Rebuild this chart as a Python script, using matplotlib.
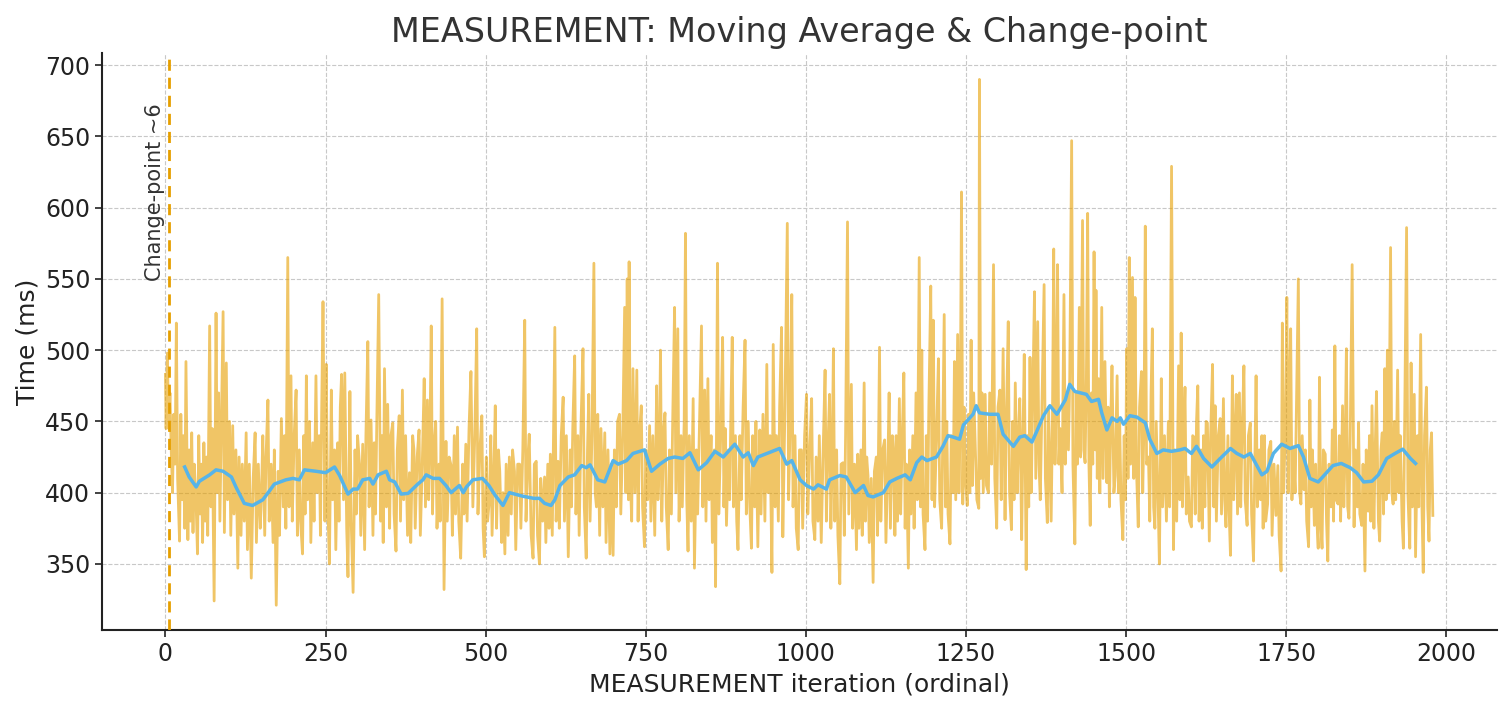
import matplotlib
matplotlib.use("Agg")
import matplotlib.pyplot as plt

raw_pairs = [
    (0,483),(1,445),(3,498),(5,445),(7,470),(9,430),(11,400),(13,455),(15,420),(17,519),(19,410),(22,366),(24,455),(26,395),(28,440),(30,375),(32,492),(35,367),(37,430),(39,380),(41,442),(43,372),(45,420),(48,390),(50,357),(52,440),(54,385),(56,420),(58,365),(60,435),(62,380),(64,425),(66,370),(69,517),(71,390),(73,445),(76,324),(79,526),(81,400),(83,470),(85,380),(87,440),(90,527),(92,372),(95,491),(97,395),
    (100,450),(102,370),(105,447),(107,385),(110,430),(113,347),(115,425),(118,370),(120,420),(123,380),(126,442),(128,360),(131,420),(134,340),(137,410),(140,442),(142,365),(145,420),(148,375),(150,400),(152,440),(155,370),(157,425),(160,465),(162,380),(165,420),(168,365),(170,430),(173,321),(176,415),(178,370),(181,452),(184,390),(186,440),(188,375),(191,565),(193,390),(196,482),(198,380),
    (201,440),(204,472),(206,370),(209,430),(211,380),(214,357),(216,440),(218,385),(220,482),(222,395),(225,450),(227,365),(230,435),(232,380),(235,482),(237,400),(240,440),(242,370),(244,460),(246,534),(249,380),(251,490),(253,400),(256,350),(259,472),(261,395),(264,430),(266,360),(269,435),(271,380),(273,460),(275,483),(278,395),(280,484),(283,375),(285,341),(288,471),(290,380),(293,330),(296,430),(298,385),
    (300,440),(303,420),(305,370),(308,434),(311,360),(313,440),(316,506),(318,390),(321,451),(324,370),(326,435),(328,385),(330,450),(333,539),(336,380),(338,440),(340,365),(342,487),(345,390),(347,462),(350,375),(352,440),(355,449),(357,385),(360,359),(362,430),(365,454),(367,380),(370,472),(372,395),(375,440),(378,370),(381,414),(383,365),(386,440),(388,430),(390,375),(393,425),(396,444),(398,370),
    (401,420),(404,480),(406,390),(409,465),(411,395),(413,440),(415,517),(417,385),(419,430),(422,450),(424,375),(427,420),(429,380),(432,536),(435,332),(438,436),(440,380),(443,425),(446,419),(448,370),(451,440),(453,385),(456,446),(458,380),(461,354),(464,420),(466,385),(469,434),(471,380),(474,445),(477,485),(480,390),(483,440),(486,515),(488,385),(491,430),(494,454),(496,375),(498,355),
    (501,425),(503,380),(506,396),(508,440),(510,370),(513,420),(515,461),(517,375),(520,430),(522,415),(525,365),(527,400),(530,357),(532,420),(535,370),(537,425),(540,385),(542,430),(545,415),(547,360),(550,420),(553,420),(555,375),(558,430),(561,521),(563,380),(566,425),(568,441),(571,370),(574,354),(576,420),(579,422),(581,370),(584,350),(586,410),(589,380),(592,411),(594,365),(597,420),(599,375),
    (601,427),(604,370),(606,440),(608,516),(610,380),(613,422),(615,375),(618,440),(621,467),(623,380),(626,440),(629,355),(632,430),(634,390),(636,445),(639,496),(641,385),(644,440),(646,370),(649,450),(652,501),(654,390),(657,354),(659,430),(661,469),(663,380),(666,440),(669,561),(671,400),(673,390),(675,455),(678,370),(680,445),(683,390),(686,442),(688,365),(691,430),(694,357),(696,420),(699,356),
    (701,430),(704,390),(706,450),(709,455),(711,385),(714,440),(717,530),(719,400),(721,550),(723,395),(724,562),(726,410),(728,380),(730,487),(733,400),(736,486),(738,380),(740,440),(743,461),(745,390),(748,362),(750,430),(753,395),(756,447),(758,380),(761,440),(764,370),(767,475),(769,395),(771,420),(773,500),(775,380),(778,445),(780,456),(782,390),(785,360),(787,430),(790,385),(792,450),(795,530),(797,400),
    (800,515),(802,380),(805,440),(807,390),(810,450),(812,582),(814,395),(816,359),(818,440),(821,380),(824,466),(826,347),(829,430),(831,385),(834,450),(837,517),(839,390),(842,472),(844,380),(847,480),(849,395),(852,440),(854,365),(857,430),(859,334),(862,561),(864,385),(867,440),(870,509),(872,390),(874,445),(876,377),(879,430),(881,395),(883,460),(885,509),(887,390),(890,440),(892,380),(894,360),(897,440),(899,395),
    (902,460),(905,507),(907,385),(910,450),(912,395),(915,361),(917,440),(920,390),(922,450),(925,362),(928,444),(930,385),(933,455),(936,380),(939,490),(941,400),(944,440),(947,344),(949,504),(952,390),(954,440),(957,380),(959,460),(962,516),(964,369),(967,450),(971,589),(973,395),(975,440),(978,539),(980,390),(983,440),(985,375),(988,360),(990,430),(993,430),(995,375),(998,440),
    (1001,469),(1003,385),(1006,430),(1009,466),(1011,380),(1014,367),(1016,425),(1019,380),(1021,440),(1024,365),(1027,430),(1030,486),(1032,380),(1035,440),(1037,469),(1039,375),(1041,420),(1043,501),(1045,380),(1048,430),(1050,370),(1053,336),(1055,420),(1058,421),(1060,370),(1062,440),(1065,590),(1067,385),(1069,430),(1071,476),(1073,375),(1076,420),(1079,360),(1081,427),(1083,375),(1086,430),(1088,370),(1091,477),(1093,380),(1095,425),(1097,412),(1099,365),
    (1102,410),(1105,337),(1107,415),(1110,425),(1112,370),(1115,502),(1117,380),(1120,430),(1123,437),(1125,365),(1128,420),(1130,470),(1132,375),(1135,440),(1137,427),(1139,370),(1141,440),(1143,380),(1146,466),(1148,385),(1150,430),(1153,484),(1155,375),(1157,420),(1160,347),(1162,430),(1164,385),(1167,440),(1169,375),(1172,470),(1174,395),(1177,565),(1179,390),(1181,500),(1183,385),(1186,360),(1188,440),(1190,380),(1192,460),(1195,545),(1197,395),(1199,521),
    (1201,390),(1204,440),(1207,494),(1209,395),(1212,375),(1214,450),(1216,525),(1218,390),(1220,450),(1222,385),(1225,364),(1227,440),(1230,400),(1232,492),(1234,395),(1237,511),(1239,400),(1241,450),(1243,611),(1245,392),(1247,460),(1249,410),(1252,391),(1254,455),(1256,400),(1258,507),(1260,405),(1262,470),(1265,426),(1267,395),(1270,389),(1271,690),(1273,410),(1275,470),(1277,400),(1280,469),(1282,405),(1285,400),(1287,470),(1290,420),(1293,560),(1295,410),(1298,375),
    (1300,460),(1303,472),(1305,395),(1308,501),(1311,381),(1313,450),(1316,520),(1318,400),(1321,374),(1323,450),(1325,395),(1327,477),(1330,400),(1332,440),(1334,466),(1337,367),(1339,440),(1341,497),(1344,346),(1346,440),(1348,390),(1350,495),(1352,400),(1354,460),(1357,541),(1359,410),(1362,520),(1364,420),(1366,395),(1369,470),(1372,546),(1374,410),(1377,379),(1379,460),(1381,420),(1383,380),(1385,450),(1387,571),(1389,420),(1391,470),(1393,560),(1395,420),(1397,445),
    (1400,400),(1403,539),(1405,420),(1407,470),(1410,430),(1412,480),(1415,647),(1417,420),(1420,364),(1422,470),(1424,420),(1427,530),(1429,425),(1432,591),(1434,430),(1436,421),(1438,480),(1440,596),(1442,420),(1444,377),(1446,470),(1448,420),(1450,569),(1452,430),(1453,542),(1455,410),(1457,480),(1459,400),(1462,530),(1464,410),(1467,492),(1470,407),(1472,460),(1474,390),(1476,450),(1478,489),(1481,400),(1483,412),(1486,482),(1488,400),(1490,450),(1492,395),(1495,367),(1497,440),(1499,395),
    (1501,501),(1503,410),(1505,565),(1507,420),(1510,551),(1512,410),(1514,537),(1516,420),(1519,376),(1521,460),(1524,485),(1526,400),(1528,450),(1530,587),(1532,420),(1535,425),(1537,380),(1539,470),(1541,515),(1543,390),(1545,375),(1547,450),(1550,395),(1552,350),(1555,480),(1557,390),(1560,440),(1563,380),(1566,450),(1568,390),(1571,629),(1574,360),(1576,430),(1579,380),(1582,489),(1584,395),(1586,512),(1588,390),(1590,440),(1592,474),(1594,385),(1597,411),(1599,380),
    (1602,376),(1604,440),(1606,439),(1608,385),(1610,450),(1612,475),(1614,380),(1617,430),(1619,375),(1621,440),(1623,390),(1625,450),(1627,449),(1630,366),(1632,440),(1635,490),(1637,390),(1639,461),(1641,380),(1644,440),(1647,452),(1649,385),(1652,466),(1654,395),(1656,376),(1659,440),(1661,385),(1663,356),(1666,482),(1668,395),(1670,440),(1672,469),(1674,385),(1677,470),(1679,390),(1681,440),(1684,489),(1686,395),(1689,377),(1691,440),(1694,449),(1696,385),(1699,352),
    (1701,420),(1703,482),(1705,390),(1708,430),(1710,395),(1712,440),(1714,375),(1716,440),(1718,380),(1721,392),(1723,430),(1726,436),(1728,370),(1731,420),(1734,384),(1737,419),(1739,370),(1742,345),(1744,519),(1746,400),(1749,450),(1751,537),(1753,400),(1755,470),(1757,515),(1759,395),(1761,432),(1764,400),(1766,460),(1769,550),(1771,400),(1773,392),(1775,440),(1778,402),(1780,430),(1782,380),(1785,362),(1787,465),(1789,390),(1791,430),(1794,377),(1796,420),(1798,380),
    (1800,361),(1802,481),(1804,380),(1806,361),(1808,430),(1811,427),(1813,380),(1815,352),(1817,420),(1820,390),(1822,444),(1824,380),(1826,503),(1828,395),(1831,392),(1833,440),(1835,380),(1838,461),(1840,390),(1842,430),(1844,501),(1846,390),(1848,382),(1850,440),(1853,560),(1856,376),(1858,430),(1861,390),(1863,449),(1865,385),(1868,377),(1870,420),(1873,345),(1875,430),(1878,387),(1880,440),(1882,380),(1884,461),(1887,375),(1889,430),(1891,471),(1894,380),(1896,366),(1898,430),
    (1900,442),(1902,385),(1904,487),(1906,395),(1908,500),(1910,400),(1913,572),(1915,400),(1917,392),(1919,450),(1921,395),(1924,486),(1926,400),(1928,440),(1931,380),(1933,361),(1935,450),(1938,586),(1940,400),(1943,361),(1945,491),(1947,390),(1950,469),(1952,355),(1955,440),(1957,390),(1960,511),(1962,390),(1964,344),(1966,440),(1969,474),(1971,390),(1973,366),(1975,430),(1977,442),(1979,384),
]
raw_iter = [p[0] for p in raw_pairs]
raw_ms = [p[1] for p in raw_pairs]

# ---- moving average (iteration, ms) ----
ma_iter = [30,37,48,53,69,79,90,103,110,123,136,152,162,170,188,199,209,217,235,250,264,272,285,293,300,308,319,324,332,345,350,358,368,379,394,402,407,418,428,438,446,459,465,470,480,495,505,515,527,537,558,575,584,592,602,608,616,629,639,650,657,663,675,686,699,707,720,730,741,748,759,772,785,795,808,819,832,845,858,871,889,902,910,918,925,939,959,970,978,991,1001,1012,1019,1032,1037,1053,1063,1077,1090,1097,1105,1121,1131,1142,1155,1163,1173,1181,1189,1204,1214,1222,1230,1240,1246,1261,1266,1271,1287,1300,1308,1324,1334,1342,1353,1360,1371,1381,1392,1405,1412,1420,1438,1446,1457,1462,1470,1478,1486,1491,1496,1506,1517,1530,1537,1548,1558,1571,1584,1592,1602,1610,1621,1634,1647,1663,1673,1684,1694,1712,1720,1730,1743,1756,1769,1777,1787,1800,1810,1823,1836,1850,1860,1871,1884,1894,1907,1920,1932,1944,1952]
ma_ms = [418,411,404,408,412.5,416,415,411,404,392.5,391,395,401,406,409,410,409,416,415,414,418,412,399,402.5,402.5,409,410,406,412.5,415,409,407.5,399,399.5,406,409,412.5,410,410,405,400,405,400,404,409,410,405,398,391,400,397.5,396,396,392.5,391,395,405,411,412.5,419,417.5,419.5,409,407.5,422.5,420,422.5,427.5,429,430,415,420,424,425,424,428,416,421,429,425,434,425,428,419,425,427.5,431,420,422.5,409,405,402.5,405.5,402.5,409,412,411,400,405,398,397,400,407.5,410,412.5,409,421,425,422.5,425,432.5,440,439,437.5,447.5,455,461,456,455,455,441,432.5,439,440,435.5,442.5,454,461,455,465,476,471,469,464,465.5,456,444,452.5,450,452.5,448,454,453,449,437.5,427.5,430,429,430,431,427.5,432.5,424,418,424,431,427.5,425,427.5,412.5,415,427.5,434,431,433,425,410,407.5,412.5,419,420.5,417.5,414,407.5,408,412.5,424,427.5,430.5,424,420.5]

change_point = 6
title = "MEASUREMENT: Moving Average & Change-point"
xlabel = "MEASUREMENT iteration (ordinal)"
ylabel = "Time (ms)"
cp_label = "Change-point ~6"

fig = plt.figure(figsize=(15.12, 7.09), dpi=100)
ax = fig.add_axes([0.0675, 0.1114, 0.9225, 0.8136])

ax.plot(raw_iter, raw_ms, color="#E69F00", alpha=0.6, lw=2.0, zorder=2)
ax.plot(ma_iter, ma_ms, color="#56B4E9", lw=2.5, zorder=3)
ax.axvline(change_point, color="#E69F00", lw=2.0, ls=(0, (4, 2.5)), zorder=4)

ax.set_xlim(-99, 2079)
ax.set_ylim(303.6, 708.4)
ax.set_xticks([0, 250, 500, 750, 1000, 1250, 1500, 1750, 2000])
ax.set_yticks([350, 400, 450, 500, 550, 600, 650, 700])

ax.text(-1, 673, cp_label, rotation=90, ha="right", va="top",
        fontsize=15, color="#333333")

ax.set_title(title, fontsize=24, color="#333333", pad=8)
ax.set_xlabel(xlabel, fontsize=18, color="#222222", labelpad=5)
ax.set_ylabel(ylabel, fontsize=18, color="#222222")
ax.tick_params(axis="both", labelsize=17, colors="#222222", length=5, width=1.2)

ax.grid(True, ls="--", color="#c8c8c8", lw=0.8)
ax.set_axisbelow(True)
for s in ["top", "right"]:
    ax.spines[s].set_visible(False)
for s in ["left", "bottom"]:
    ax.spines[s].set_linewidth(1.5)
    ax.spines[s].set_color("#222222")

fig.savefig("out.png", dpi=100)
